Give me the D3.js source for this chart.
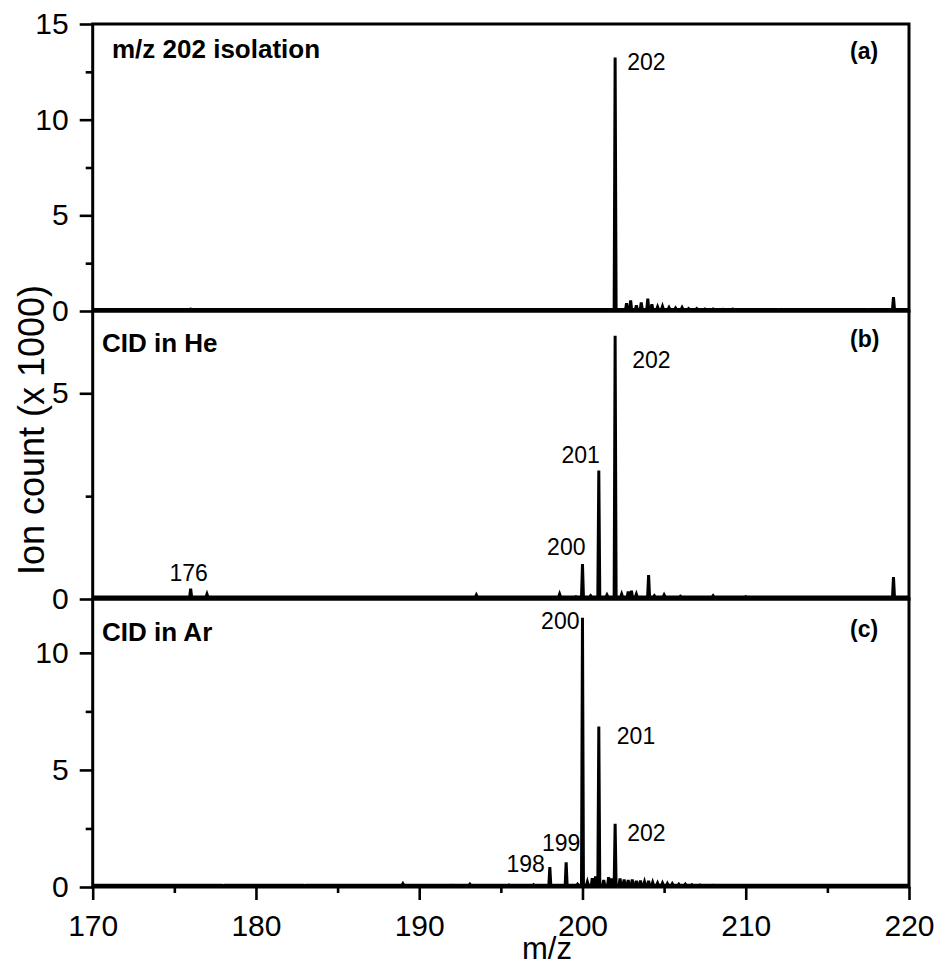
<!DOCTYPE html>
<html>
<head>
<meta charset="utf-8">
<script src="https://cdn.jsdelivr.net/npm/d3@7"></script>
<style>
  html, body { margin: 0; padding: 0; background: #fff; }
  svg { display: block; font-family: "Liberation Sans", Arial, sans-serif; }
</style>
</head>
<body>
<svg id="chart" width="938" height="968"></svg>
<script>
// ---------------- DATA ----------------
const xTicksMajor = [170, 180, 190, 200, 210, 220];
const xTicksMinor = [175, 185, 195, 205, 215];
const xLabel = "m/z";
const yLabel = "Ion count (x 1000)";

const panelTitles = ["m/z 202 isolation", "CID in He", "CID in Ar"];
const panelTags = ["(a)", "(b)", "(c)"];

// panel (a) m/z 202 isolation
const yMaxA = 15;
const yTicksA = [0, 5, 10, 15];
const yMinorA = [2.5, 7.5, 12.5];
const baseA = 0.08;
const mzA  = [176.0, 189.0, 202.0, 202.7, 202.95, 203.3, 203.6, 204.0, 204.25, 204.6, 204.9, 205.3, 205.7, 206.1, 206.5, 207.0, 207.5, 208.0, 208.6, 209.2, 210.0, 212.0, 215.0, 217.5, 219.05];
const intA = [0.1,   0.08,  13.25, 0.4,   0.55,   0.3,   0.45,  0.65,  0.35,   0.22,  0.24,  0.18,  0.16,  0.18,  0.13,  0.13,  0.11,  0.11,  0.09,  0.1,   0.08,  0.07,  0.08,  0.07,  0.72];
const labelsA = [["202", 202.0, 13.25]];

// panel (b) CID in He
const yMaxB = 7;
const yTicksB = [0, 5];
const yMinorB = [2.5];
const baseB = 0.05;
const mzB  = [176.0, 177.0, 185.0, 193.5, 198.6, 199.6, 200.0, 200.5, 201.0, 201.5, 202.0, 202.4, 202.8, 203.0, 203.3, 204.05, 204.4, 205.0, 206.0, 208.0, 210.0, 214.0, 219.05];
const intB = [0.25,  0.12,  0.05,  0.1,   0.12,  0.06,  0.85,  0.08,  3.12,  0.1,   6.4,   0.12,  0.18,  0.2,   0.12,  0.58,   0.08,  0.1,   0.07,  0.08,  0.06,  0.05,  0.53];
const labelsB = [["202", 202.0, 6.4], ["201", 201.0, 3.12], ["200", 200.0, 0.85], ["176", 176.0, 0.25]];

// panel (c) CID in Ar
const yMaxC = 12.3;
const yTicksC = [0, 5, 10];
const yMinorC = [2.5, 7.5];
const baseC = 0.07;
const mzC  = [178.0, 183.0, 189.0, 192.0, 193.1, 195.5, 197.0, 198.0, 199.0, 199.7, 200.0, 200.3, 200.6, 200.8, 201.0, 201.3, 201.6, 201.8, 202.0, 202.3, 202.55, 202.8, 203.05, 203.3, 203.55, 203.8, 204.05, 204.3, 204.6, 204.9, 205.2, 205.5, 205.9, 206.3, 206.7, 207.2, 208.0, 210.0, 215.0];
const intC = [0.06,  0.06,  0.14,  0.08,  0.12,  0.09,  0.1,   0.85,  1.05,  0.12,  11.5,  0.22,  0.38,  0.45,  6.85,  0.3,   0.42,  0.36,  2.7,   0.36,  0.32,   0.3,   0.32,   0.26,  0.27,   0.22,  0.26,   0.2,   0.17,  0.17,  0.15,  0.14,  0.12,  0.12,  0.1,   0.09,  0.08,  0.07,  0.07];
const labelsC = [["200", 200.0, 11.5], ["201", 201.0, 6.85], ["202", 202.0, 2.7], ["199", 199.0, 1.05], ["198", 198.0, 0.85]];

// ---------------- LAYOUT ----------------
const left = 92.7, right = 909;
const panelTops = [24, 311, 599];
const panelBottoms = [311, 599, 887];
const peakHalfWidth = 0.06;

// label offsets (pixels) relative to the peak tip: [anchor, dx, dy]
const labelOffsetsA = [["start", 12, 13]];
const labelOffsetsB = [["start", 17, 32], ["end", 1, -8], ["end", 3, -9], ["middle", -2, -8]];
const labelOffsetsC = [["end", -3, 11], ["start", 18, 17], ["start", 12, 17], ["middle", -5, -11], ["end", -5, 5]];

const titleBaselines = [58, 352, 641];
const titleX = [112, 102, 102];
const tagBaselines = [59, 347, 637];

const svg = d3.select("#chart");
const x = d3.scaleLinear().domain([170, 220]).range([left, right]);

const panels = [
  { yMax: yMaxA, ticks: yTicksA, minor: yMinorA, base: baseA, mz: mzA, inten: intA, labels: labelsA, offs: labelOffsetsA },
  { yMax: yMaxB, ticks: yTicksB, minor: yMinorB, base: baseB, mz: mzB, inten: intB, labels: labelsB, offs: labelOffsetsB },
  { yMax: yMaxC, ticks: yTicksC, minor: yMinorC, base: baseC, mz: mzC, inten: intC, labels: labelsC, offs: labelOffsetsC }
];

panels.forEach((p, i) => {
  const y = d3.scaleLinear().domain([0, p.yMax]).range([panelBottoms[i], panelTops[i]]);
  const g = svg.append("g");

  // spectrum line
  const pts = [[170, p.base]];
  p.mz.forEach((m, k) => {
    pts.push([m - peakHalfWidth, p.base]);
    pts.push([m, p.inten[k]]);
    pts.push([m + peakHalfWidth, p.base]);
  });
  pts.push([220, p.base]);
  const line = d3.line().x(d => x(d[0])).y(d => y(d[1]));
  g.append("path").attr("d", line(pts))
    .attr("fill", "none").attr("stroke", "#000")
    .attr("stroke-width", 3).attr("stroke-linejoin", "miter");

  // y axis major
  const ya = d3.axisLeft(y).tickValues(p.ticks).tickSize(13).tickPadding(11).tickFormat(d3.format("d"));
  const yg = g.append("g").attr("transform", `translate(${left},0)`).call(ya);
  yg.select(".domain").remove();
  yg.selectAll(".tick line").attr("stroke-width", 2.6);
  yg.selectAll(".tick text").attr("font-size", 30).attr("font-family", "Liberation Sans, Arial, sans-serif").attr("fill", "#000");

  const ym = d3.axisLeft(y).tickValues(p.minor).tickSize(7).tickFormat("");
  const ymg = g.append("g").attr("transform", `translate(${left},0)`).call(ym);
  ymg.select(".domain").remove();
  ymg.selectAll(".tick line").attr("stroke-width", 2.6);

  // frame
  g.append("rect")
    .attr("x", left).attr("y", panelTops[i])
    .attr("width", right - left).attr("height", panelBottoms[i] - panelTops[i])
    .attr("fill", "none").attr("stroke", "#000").attr("stroke-width", 3);

  // title and tag
  g.append("text").attr("x", titleX[i]).attr("y", titleBaselines[i])
    .attr("font-size", 26).attr("font-weight", "bold").text(panelTitles[i]);
  g.append("text").attr("x", 850).attr("y", tagBaselines[i])
    .attr("font-size", 23).attr("font-weight", "bold").text(panelTags[i]);

  // peak labels
  p.labels.forEach((l, k) => {
    const o = p.offs[k];
    g.append("text")
      .attr("x", x(l[1]) + o[1]).attr("y", y(l[2]) + o[2])
      .attr("text-anchor", o[0]).attr("font-size", 23).text(l[0]);
  });
});

// x axis at bottom
const xa = d3.axisBottom(x).tickValues(xTicksMajor).tickSize(13).tickPadding(15).tickFormat(d3.format("d"));
const xg = svg.append("g").attr("transform", `translate(0,${panelBottoms[2]})`).call(xa);
xg.select(".domain").remove();
xg.selectAll(".tick line").attr("stroke-width", 2.6);
xg.selectAll(".tick text").attr("font-size", 30).attr("font-family", "Liberation Sans, Arial, sans-serif").attr("fill", "#000");
const xm = d3.axisBottom(x).tickValues(xTicksMinor).tickSize(6).tickFormat("");
const xmg = svg.append("g").attr("transform", `translate(0,${panelBottoms[2]})`).call(xm);
xmg.select(".domain").remove();
xmg.selectAll(".tick line").attr("stroke-width", 2.6);

// axis titles
svg.append("text").attr("x", 547).attr("y", 959).attr("text-anchor", "middle")
  .attr("font-size", 31).text(xLabel);
svg.append("text").attr("transform", "translate(44,430) rotate(-90)")
  .attr("text-anchor", "middle").attr("font-size", 36).text(yLabel);
</script>
</body>
</html>
